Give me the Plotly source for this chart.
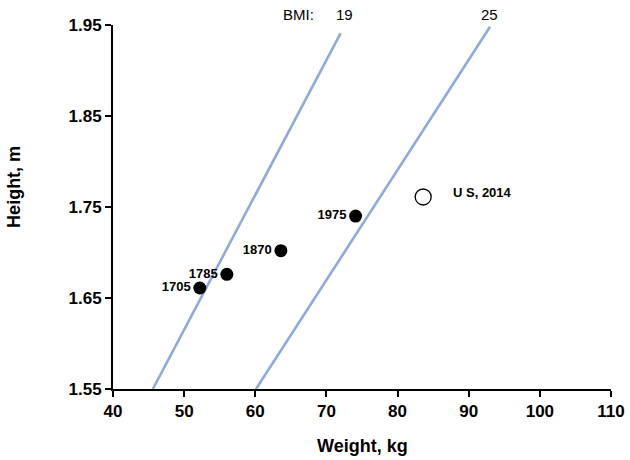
import plotly.graph_objects as go

years = ["1705", "1785", "1870", "1975"]
weights = [52.2, 56.0, 63.6, 74.1]
heights = [1.661, 1.676, 1.702, 1.740]

us_label = ["U S, 2014"]
us_weight = [83.6]
us_height = [1.761]

bmi19_w = [45.6, 72.0]
bmi19_h = [1.55, 1.941]
bmi25_w = [60.1, 93.0]
bmi25_h = [1.55, 1.948]

x_ticks = [40, 50, 60, 70, 80, 90, 100, 110]
y_ticks = [1.55, 1.65, 1.75, 1.85, 1.95]

line_color = "#8FAADC"
base_font = "Liberation Sans, Arial"

fig = go.Figure()
fig.add_trace(go.Scatter(x=bmi19_w, y=bmi19_h, mode="lines",
                         line=dict(color=line_color, width=2.6), showlegend=False))
fig.add_trace(go.Scatter(x=bmi25_w, y=bmi25_h, mode="lines",
                         line=dict(color=line_color, width=2.6), showlegend=False))
fig.add_trace(go.Scatter(x=weights, y=heights, mode="markers+text", text=years,
                         textposition="middle left",
                         textfont=dict(family=base_font, size=13, color="black", weight="bold"),
                         marker=dict(color="black", size=13), showlegend=False,
                         cliponaxis=False))
fig.add_trace(go.Scatter(x=us_weight, y=us_height, mode="markers",
                         marker=dict(color="white", size=16, line=dict(color="black", width=1.3)),
                         showlegend=False, cliponaxis=False))
fig.add_annotation(x=us_weight[0], y=us_height[0], text=us_label[0], xref="x", yref="y",
                   showarrow=False, xanchor="left", yanchor="middle", xshift=28, yshift=4,
                   font=dict(family=base_font, size=13, color="black", weight="bold"))

fig.add_annotation(x=bmi19_w[1], y=1.03, text="BMI:", xref="x", yref="paper",
                   showarrow=False, yanchor="middle", xanchor="center", xshift=-42,
                   font=dict(family=base_font, size=15, color="black"))
fig.add_annotation(x=bmi19_w[1], y=1.03, text="19", xref="x", yref="paper",
                   showarrow=False, yanchor="middle", xanchor="center", xshift=4,
                   font=dict(family=base_font, size=15, color="black"))
fig.add_annotation(x=bmi25_w[1], y=1.03, text="25", xref="x", yref="paper",
                   showarrow=False, yanchor="middle", xanchor="center", xshift=-1,
                   font=dict(family=base_font, size=15, color="black"))

fig.add_annotation(x=0.502, y=-0.157, xref="paper", yref="paper", text="Weight, kg",
                   showarrow=False, xanchor="center", yanchor="middle",
                   font=dict(family=base_font, size=18, color="black", weight="bold"))
fig.add_annotation(x=-0.199, y=0.555, xref="paper", yref="paper", text="Height, m",
                   showarrow=False, xanchor="center", yanchor="middle", textangle=-90,
                   font=dict(family=base_font, size=18, color="black", weight="bold"))

fig.update_layout(
    width=630, height=460,
    margin=dict(l=113, r=19, t=25, b=71),
    paper_bgcolor="white", plot_bgcolor="white",
    font=dict(family=base_font, color="black"),
)
fig.update_xaxes(range=[40, 110], tickvals=x_ticks, showgrid=False, zeroline=False,
                 showline=True, linecolor="black", linewidth=2, automargin=False,
                 ticks="outside", ticklen=6, tickwidth=2, tickcolor="black",
                 tickfont=dict(size=17, weight="bold", family=base_font))
fig.update_yaxes(range=[1.55, 1.95], tickvals=y_ticks, ticktext=[f"{v:.2f}" for v in y_ticks],
                 showgrid=False, zeroline=False, automargin=False,
                 showline=True, linecolor="black", linewidth=2,
                 ticks="outside", ticklen=6, tickwidth=2, tickcolor="black",
                 tickfont=dict(size=17, weight="bold", family=base_font))

fig.write_html("out.html", config={"displayModeBar": False},
               post_script="document.body.style.margin='0px';")
